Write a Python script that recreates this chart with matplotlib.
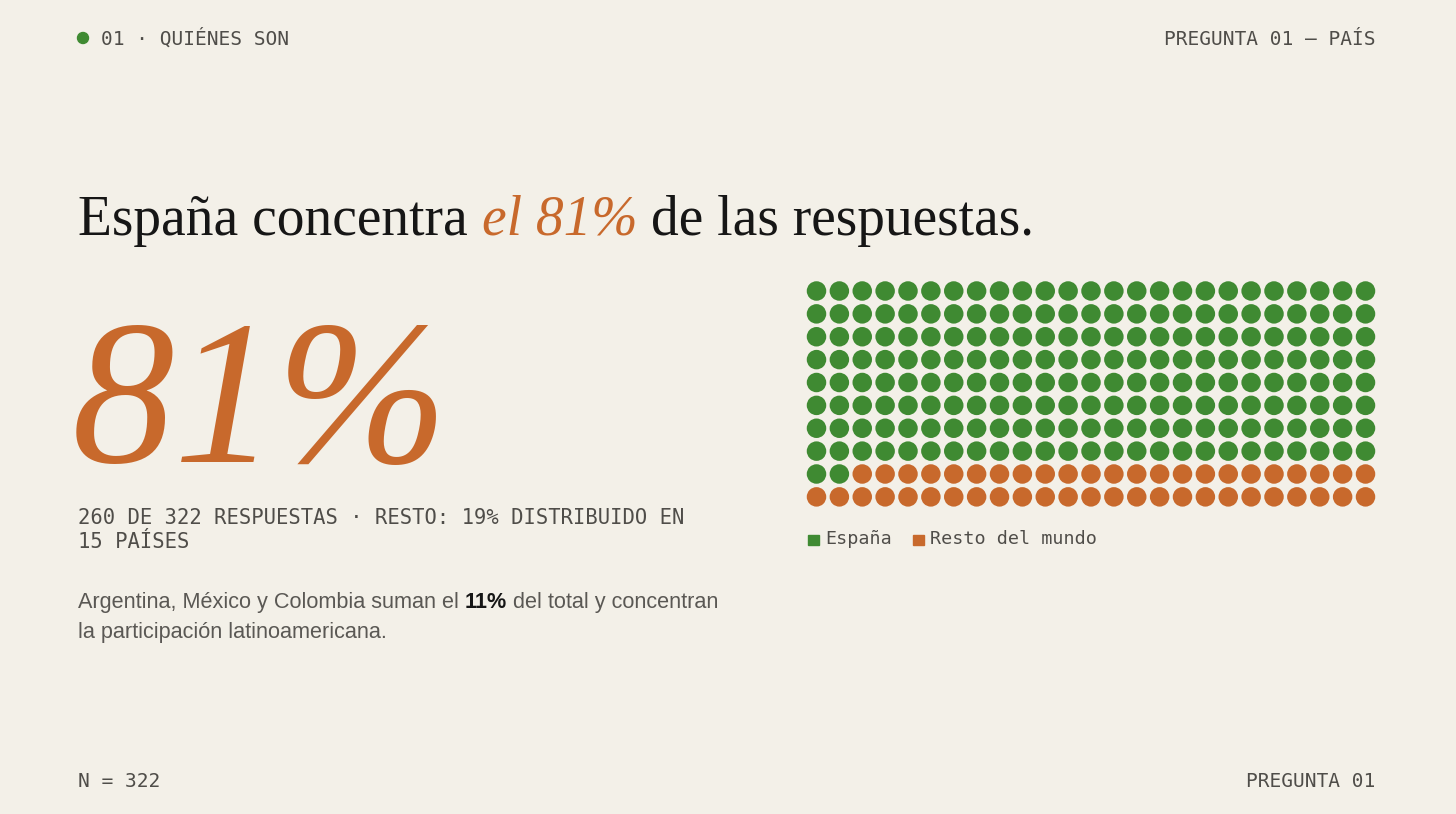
import matplotlib
matplotlib.use("Agg")
import matplotlib.pyplot as plt
from matplotlib.patches import Rectangle, Ellipse
import numpy as np

# --- data -------------------------------------------------------------
categories = ["España", "Resto del mundo"]
waffle_counts = [202, 48]          # dots per category (25 x 10 grid)
n_total = 322
n_espana = 260
pct_espana = 81
pct_resto = 19
n_paises_resto = 15
pct_latam = 11

# --- style ------------------------------------------------------------
W, H = 1456, 814
BG = "#f3f0e8"
GREEN = "#3f8a32"
ORANGE = "#c8692c"
INK = "#161616"
MONO_INK = "#4f4d49"
BODY_INK = "#5a5854"
MONO = "DejaVu Sans Mono"
SERIF = "Liberation Serif"
SANS = "Liberation Sans"

fig = plt.figure(figsize=(W / 100, H / 100), dpi=100)
fig.patch.set_facecolor(BG)
renderer = fig.canvas.get_renderer()


def fx(x):
    return x / W


def fy(y):
    return 1 - y / H


def width_of(t):
    return t.get_window_extent(renderer).width


def text_run(parts, x, y, **common):
    """Draw a sequence of (text, kwargs) pieces on one baseline, left to right."""
    cur = x
    for s, kw in parts:
        opts = dict(common)
        opts.update(kw)
        t = fig.text(fx(cur), fy(y), s, va="baseline", ha="left", **opts)
        cur += width_of(t)
    return cur


def space_width(**kw):
    a = fig.text(0, 0, "x x", **kw)
    b = fig.text(0, 0, "xx", **kw)
    w = width_of(a) - width_of(b)
    a.remove()
    b.remove()
    return w


# --- header / footer --------------------------------------------------
fig.add_artist(Ellipse((fx(83), fy(38)), 11 / W, 11 / H, color=GREEN,
                       transform=fig.transFigure))
hdr = dict(family=MONO, fontsize=14, color=MONO_INK)
fig.text(fx(101), fy(45), "01 · QUIÉNES SON", va="baseline", ha="left", **hdr)
fig.text(fx(1375), fy(45), "PREGUNTA 01 — PAÍS", va="baseline", ha="right", **hdr)
fig.text(fx(78), fy(787), f"N = {n_total}", va="baseline", ha="left", **hdr)
fig.text(fx(1375), fy(787), "PREGUNTA 01", va="baseline", ha="right", **hdr)

# --- title ------------------------------------------------------------
title_size = 40
tkw = dict(family=SERIF, fontsize=title_size)
sp = space_width(**tkw)
x = 78
x = text_run([("España concentra", dict(color=INK))], x, 235, **tkw) + sp
x = text_run([(f"el {pct_espana}%", dict(color=ORANGE, style="italic"))], x, 235, **tkw) + sp
text_run([("de las respuestas.", dict(color=INK))], x, 235, **tkw)

# --- big number -------------------------------------------------------
fig.text(fx(72), fy(462), f"{pct_espana}%", va="baseline", ha="left",
         family=SERIF, style="italic", fontsize=148, color=ORANGE)

# --- subtitle (mono caps) ---------------------------------------------
sub = dict(family=MONO, fontsize=14.8, color=MONO_INK)
fig.text(fx(78), fy(524),
         f"{n_espana} DE {n_total} RESPUESTAS · RESTO: {pct_resto}% DISTRIBUIDO EN",
         va="baseline", ha="left", **sub)
fig.text(fx(78), fy(548), f"{n_paises_resto} PAÍSES", va="baseline", ha="left", **sub)

# --- body text --------------------------------------------------------
bkw = dict(family=SANS, fontsize=15.6)
bsp = space_width(**bkw)
x = 78
x = text_run([("Argentina, México y Colombia suman el", dict(color=BODY_INK))], x, 608, **bkw) + bsp
x = text_run([(f"{pct_latam}%", dict(color=INK, weight="bold"))], x, 608, **bkw) + bsp
text_run([("del total y concentran", dict(color=BODY_INK))], x, 608, **bkw)
fig.text(fx(78), fy(638), "la participación latinoamericana.", va="baseline",
         ha="left", color=BODY_INK, **bkw)

# --- waffle -----------------------------------------------------------
n_cols, n_rows = 25, 10
step = 22.875
left, top = 816.5 - step / 2, 291 - step / 2
ax = fig.add_axes([fx(left), fy(top + n_rows * step), n_cols * step / W, n_rows * step / H])
ax.set_facecolor("none")
ax.set_xlim(-0.5, n_cols - 0.5)
ax.set_ylim(n_rows - 0.5, -0.5)
ax.axis("off")

colors = np.repeat([GREEN, ORANGE], waffle_counts)
idx = np.arange(n_cols * n_rows)
cols, rows = idx % n_cols, idx // n_cols
diam_pt = 19.5 * 72 / 100
ax.scatter(cols, rows, s=diam_pt ** 2, c=colors, linewidths=0)

# --- legend -----------------------------------------------------------
lkw = dict(family=MONO, fontsize=13.2, color=MONO_INK)
leg_x = [808, 913]
for cat, col, lx in zip(categories, [GREEN, ORANGE], leg_x):
    fig.add_artist(Rectangle((fx(lx), fy(545)), 10.5 / W, 10.5 / H, color=col,
                             transform=fig.transFigure))
    fig.text(fx(lx + 17), fy(544), cat, va="baseline", ha="left", **lkw)

fig.savefig("out.png", dpi=100, facecolor=BG)
